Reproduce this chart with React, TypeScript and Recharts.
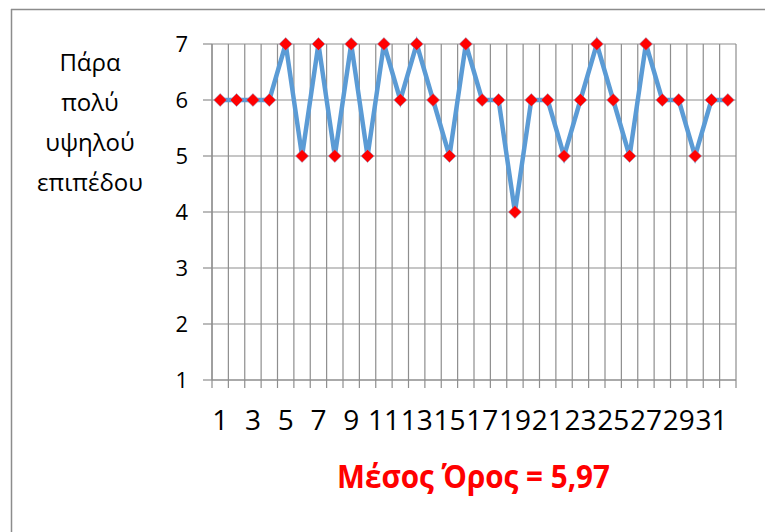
import { LineChart, Line, XAxis, YAxis, CartesianGrid } from 'recharts';

// Βαθμολογίες "Πάρα πολύ υψηλού επιπέδου" ανά ερωτηθέντα (1..32)
const categories = [
  1, 2, 3, 4, 5, 6, 7, 8, 9, 10, 11, 12, 13, 14, 15, 16,
  17, 18, 19, 20, 21, 22, 23, 24, 25, 26, 27, 28, 29, 30, 31, 32,
];
const values = [
  6, 6, 6, 6, 7, 5, 7, 5, 7, 5, 7, 6, 7, 6, 5, 7,
  6, 6, 4, 6, 6, 5, 6, 7, 6, 5, 7, 6, 6, 5, 6, 6,
];
const yTicks = [1, 2, 3, 4, 5, 6, 7];
const xLabels = [1, 3, 5, 7, 9, 11, 13, 15, 17, 19, 21, 23, 25, 27, 29, 31];
const titleLines = ['Πάρα', 'πολύ', 'υψηλού', 'επιπέδου'];
const meanText = 'Μέσος Όρος = 5,97';

const data = categories.map((x, i) => ({ x, v: values[i] }));
// όρια κατηγοριών για τις κάθετες γραμμές πλέγματος
const boundaries = [...categories.map((c) => c - 0.5), categories[categories.length - 1] + 0.5];
const domain: [number, number] = [boundaries[0], boundaries[boundaries.length - 1]];

const FONT = "'Open Sans', 'DejaVu Sans', sans-serif";
const GRID = '#8e8e8e';

function Diamond({ cx, cy }: any) {
  if (cx == null || cy == null) return null;
  const r = 6.5;
  return (
    <polygon
      points={`${cx},${cy - r} ${cx + r},${cy} ${cx},${cy + r} ${cx - r},${cy}`}
      fill="#FF0000"
      stroke="#7fa8d8"
      strokeWidth={0.5}
    />
  );
}

export default function App() {
  return (
    <div style={{ position: 'absolute', left: 0, top: 0, width: 765, height: 532, background: '#fff', overflow: 'hidden' }}>
      <svg width={765} height={532} style={{ position: 'absolute', left: 0, top: 0 }}>
        <line x1={11} y1={9.5} x2={765} y2={9.5} stroke="#8c8c8c" strokeWidth={1.5} />
        <line x1={11.5} y1={9} x2={11.5} y2={532} stroke="#8c8c8c" strokeWidth={1.5} />
        {titleLines.map((t, i) => (
          <text key={t} x={90} y={71 + i * 40} textAnchor="middle" fontFamily={FONT} fontSize={24} fontWeight={500} fill="#000">
            {t}
          </text>
        ))}
        <text
          x={337}
          y={488}
          fontFamily={FONT}
          fontWeight="bold"
          fontSize={32}
          fill="#FF0000"
          textLength={273}
          lengthAdjust="spacingAndGlyphs"
        >
          {meanText}
        </text>
      </svg>
      <div style={{ position: 'absolute', left: 0, top: 0 }}>
        <LineChart width={765} height={532} data={data} margin={{ top: 44, right: 29, left: 0, bottom: 84 }}>
          <CartesianGrid xAxisId="grid" stroke={GRID} strokeWidth={1.2} />
          <XAxis
            xAxisId="grid"
            dataKey="x"
            type="number"
            domain={domain}
            ticks={boundaries}
            interval={0}
            tickFormatter={() => ''}
            tickSize={8}
            tickLine={{ stroke: GRID, strokeWidth: 1.2 }}
            axisLine={{ stroke: GRID, strokeWidth: 1.2 }}
            height={8}
            allowDataOverflow
          />
          <XAxis
            xAxisId="lab"
            dataKey="x"
            type="number"
            domain={domain}
            ticks={xLabels}
            interval={0}
            tickLine={false}
            axisLine={false}
            tickSize={0}
            tickMargin={22}
            height={60}
            tick={{ fill: '#000', fontSize: 28, fontFamily: FONT }}
            allowDataOverflow
          />
          <YAxis
            domain={[1, 7]}
            ticks={yTicks}
            interval={0}
            width={212}
            tickSize={9}
            tickMargin={15}
            tickLine={{ stroke: GRID, strokeWidth: 1.2 }}
            axisLine={{ stroke: GRID, strokeWidth: 1.2 }}
            tick={{ fill: '#000', fontSize: 22, fontFamily: FONT }}
          />
          <Line
            xAxisId="grid"
            dataKey="v"
            stroke="#5B9BD5"
            strokeWidth={4.5}
            dot={<Diamond />}
            activeDot={false}
            isAnimationActive={false}
          />
        </LineChart>
      </div>
    </div>
  );
}
